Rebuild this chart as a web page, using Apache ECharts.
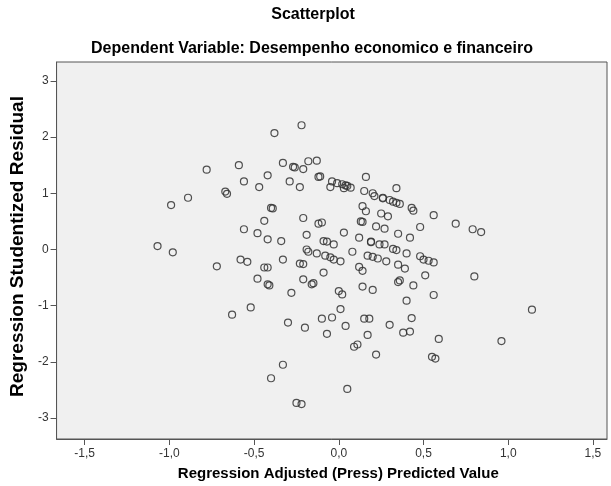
<!DOCTYPE html>
<html>
<head>
<meta charset="utf-8">
<script src="https://cdn.jsdelivr.net/npm/echarts@6/dist/echarts.min.js"></script>
<style>
html,body{margin:0;padding:0;background:#fff;}
#chart{width:611px;height:486px;}
</style>
</head>
<body>
<div id="chart"></div>
<script>
// Regression Adjusted (Press) Predicted Value
var predicted = [
-1.07,-0.98,-0.99,-0.89,-0.78,-0.72,-0.67,-0.66,-0.63,-0.59,
-0.56,-0.56,-0.58,-0.54,-0.52,-0.48,-0.48,-0.47,-0.44,-0.44,
-0.42,-0.42,-0.41,-0.42,-0.42,-0.40,-0.39,-0.40,-0.38,-0.34,
-0.33,-0.33,-0.33,-0.30,-0.29,-0.28,-0.27,-0.26,-0.25,-0.22,
-0.23,-0.23,-0.22,-0.21,-0.21,-0.21,-0.21,-0.20,-0.19,-0.19,
-0.18,-0.18,-0.16,-0.15,-0.13,-0.13,-0.12,-0.11,-0.12,-0.10,
-0.10,-0.09,-0.09,-0.08,-0.07,-0.07,-0.05,-0.05,-0.04,-0.04,
-0.03,-0.03,-0.01,0.00,0.01,0.02,0.01,0.03,0.02,0.03,
0.04,0.05,0.07,0.04,0.05,0.08,0.09,0.11,0.12,0.12,
0.13,0.14,0.14,0.14,0.14,0.15,0.15,0.18,0.16,0.16,
0.17,0.17,0.19,0.19,0.20,0.20,0.20,0.21,0.22,0.22,
0.24,0.23,0.25,0.26,0.26,0.27,0.27,0.28,0.29,0.30,
0.30,0.32,0.32,0.34,0.34,0.34,0.35,0.35,0.35,0.36,
0.36,0.38,0.39,0.40,0.40,0.42,0.42,0.43,0.43,0.44,
0.44,0.48,0.48,0.50,0.51,0.53,0.56,0.56,0.56,0.59,
0.55,0.57,0.69,0.79,0.84,0.80,0.96,1.14
];
// Regression Studentized Residual
var residual = [
0.06,-0.05,0.79,0.92,1.42,-0.30,1.03,0.99,-1.16,1.50,
1.21,0.36,-0.18,-0.22,-1.03,0.29,-0.52,1.11,0.51,-0.32,
-0.32,-0.62,-0.64,1.32,0.18,0.74,0.73,-2.29,2.07,0.15,
1.54,-0.18,-2.05,-1.30,1.21,-0.77,1.47,1.46,-2.73,-2.75,
1.11,-0.25,2.21,1.43,0.56,-0.53,-0.26,-1.39,0.26,0.00,
-0.04,1.57,-0.62,-0.60,-0.07,1.58,1.29,1.30,0.46,0.48,
-1.23,0.15,-0.41,-0.11,0.14,-1.50,1.11,-0.14,-1.21,1.21,
0.09,-0.18,1.18,-0.74,-0.21,-0.80,-1.06,0.30,1.16,1.09,
1.14,1.13,1.10,-1.36,-2.48,-0.04,-1.73,-1.69,0.21,-0.31,
0.50,0.49,0.77,-0.38,-0.66,1.04,-1.23,-1.23,0.68,1.29,
-1.52,-0.11,0.14,0.13,1.00,-0.13,-0.72,0.95,-1.87,0.41,
0.09,-0.16,0.64,0.91,0.92,0.37,0.09,-0.21,0.59,0.88,
-1.34,0.85,0.01,0.83,-0.01,1.09,0.28,-0.27,-0.58,-0.55,
0.81,-1.48,-0.34,-0.91,-0.07,0.21,-1.46,-1.22,0.74,0.69,
-0.64,0.40,-0.12,-0.18,-0.46,-0.20,0.61,-0.23,-0.81,-1.59,
-1.91,-1.94,0.46,0.36,0.31,-0.48,-1.63,-1.07
];
var xTicks = [-1.5, -1.0, -0.5, 0.0, 0.5, 1.0, 1.5];
var yTicks = [-3, -2, -1, 0, 1, 2, 3];

var points = predicted.map(function (v, i) { return [v, residual[i]]; });
var FONT = '"Liberation Sans", Arial, sans-serif';

var chart = echarts.init(document.getElementById('chart'), null, {renderer: 'canvas'});
chart.setOption({
  animation: false,
  backgroundColor: '#ffffff',
  graphic: [
    {type: 'text', z: 10, style: {text: 'Scatterplot', x: 313, y: 15, textAlign: 'center', textVerticalAlign: 'middle', font: 'bold 16px ' + FONT, fill: '#000'}},
    {type: 'text', z: 10, style: {text: 'Dependent Variable: Desempenho economico e financeiro', x: 312, y: 49, textAlign: 'center', textVerticalAlign: 'middle', font: 'bold 16px ' + FONT, fill: '#000'}}
  ],
  grid: {
    left: 56, right: 4, top: 62, bottom: 44,
    show: true, backgroundColor: '#f0f0f0', borderColor: '#555555', borderWidth: 1
  },
  xAxis: {
    type: 'value', min: -1.666, max: 1.583,
    name: 'Regression Adjusted (Press) Predicted Value',
    nameLocation: 'middle', nameGap: 27,
    nameTextStyle: {fontFamily: FONT, fontWeight: 'bold', fontSize: 15, color: '#000', padding: [0, 0, 0, 13]},
    axisLine: {show: true, onZero: false, lineStyle: {color: '#555555', width: 1}},
    axisTick: {show: true, length: 6, customValues: xTicks, lineStyle: {color: '#555555'}},
    axisLabel: {customValues: xTicks, margin: 9, fontFamily: FONT, fontSize: 12, color: '#333',
      formatter: function (v) { return v.toFixed(1).replace('.', ','); }},
    splitLine: {show: false}
  },
  yAxis: {
    type: 'value', min: -3.371, max: 3.335,
    name: 'Regression Studentized Residual',
    nameLocation: 'middle', nameGap: 24,
    nameTextStyle: {fontFamily: FONT, fontWeight: 'bold', fontSize: 19, color: '#000', padding: [0, 0, 0, 8]},
    axisLine: {show: true, onZero: false, lineStyle: {color: '#555555', width: 1}},
    axisTick: {show: true, length: 6, customValues: yTicks, lineStyle: {color: '#555555'}},
    axisLabel: {customValues: yTicks, margin: 8, fontFamily: FONT, fontSize: 12, color: '#333',
      formatter: function (v) { return String(v); }},
    splitLine: {show: false}
  },
  series: [{
    type: 'scatter',
    data: points,
    symbol: 'circle',
    symbolSize: 7,
    itemStyle: {color: 'rgba(0,0,0,0)', borderColor: '#333333', borderWidth: 1.2, opacity: 0.85}
  }]
});
</script>
</body>
</html>
